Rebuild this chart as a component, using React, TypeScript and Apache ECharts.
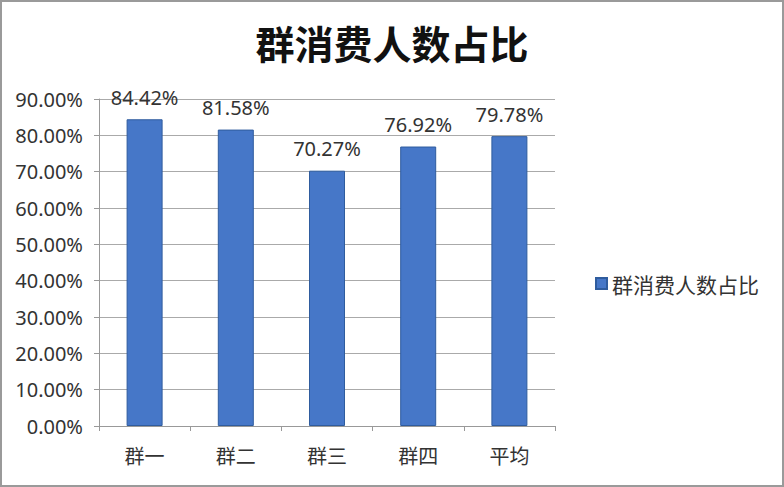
import React, { useEffect, useRef } from "react";
import * as echarts from "echarts";

const categories = ["群一", "群二", "群三", "群四", "平均"];
const values = [84.42, 81.58, 70.27, 76.92, 79.78];
const seriesName = "群消费人数占比";
const titleText = "群消费人数占比";

export default function App() {
  const ref = useRef<HTMLDivElement>(null);
  useEffect(() => {
    if (!ref.current) return;
    const chart = echarts.init(ref.current, null, { renderer: "svg" });
    const font = "'Noto Sans', 'Noto Sans CJK SC', sans-serif";
    const cjk = "'Noto Sans CJK SC', sans-serif";
    chart.setOption({
      animation: false,
      backgroundColor: "#ffffff",
      title: {
        text: titleText,
        left: "center",
        top: 15,
        textStyle: { fontSize: 39, fontWeight: "bold", color: "#111", fontFamily: cjk },
      },
      legend: {
        orient: "vertical",
        left: 588,
        top: 266,
        itemWidth: 11,
        itemHeight: 11,
        itemGap: 6,
        icon: "rect",
        textStyle: { fontSize: 21, color: "#333", fontFamily: cjk },
        data: [seriesName],
      },
      grid: { left: 97, right: 227, top: 97, bottom: 59 },
      xAxis: {
        type: "category",
        data: categories,
        axisLine: { show: true, lineStyle: { color: "#999", width: 1 } },
        axisTick: { show: true, length: 5, lineStyle: { color: "#999" } },
        axisLabel: { fontSize: 20, color: "#333", margin: 19, fontFamily: cjk },
      },
      yAxis: {
        type: "value",
        min: 0,
        max: 90,
        interval: 10,
        axisLine: { show: true, lineStyle: { color: "#999", width: 1 } },
        axisTick: { show: true, length: 5, lineStyle: { color: "#999" } },
        axisLabel: {
          fontSize: 20,
          color: "#333",
          margin: 16,
          fontFamily: font,
          formatter: (v: number) => v.toFixed(2) + "%",
        },
        splitLine: { show: true, lineStyle: { color: "#aaaaaa", width: 1 } },
      },
      series: [
        {
          name: seriesName,
          type: "bar",
          data: values,
          barWidth: 36,
          itemStyle: { color: "#4677c8", borderColor: "#2f5c9e", borderWidth: 1 },
          label: {
            show: true,
            position: "top",
            distance: 12,
            fontSize: 20,
            color: "#333",
            fontFamily: font,
            formatter: (p: any) => p.value.toFixed(2) + "%",
          },
        },
      ],
    });
    return () => chart.dispose();
  }, []);
  return (
    <div
      ref={ref}
      style={{
        position: "fixed",
        left: 0,
        top: 0,
        width: 784,
        height: 487,
        boxSizing: "border-box",
        border: "2px solid #9a9a9a",
      }}
    />
  );
}
